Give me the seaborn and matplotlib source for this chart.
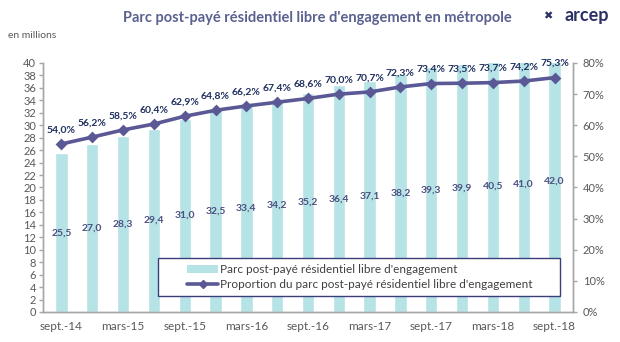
import matplotlib
matplotlib.use("Agg")
import matplotlib.pyplot as plt
import seaborn as sns
import pandas as pd
import numpy as np
from matplotlib.lines import Line2D
from matplotlib.patches import Patch, Rectangle
from matplotlib.ticker import PercentFormatter

periods = ["sept.-14", "déc.-14", "mars-15", "juin-15", "sept.-15", "déc.-15", "mars-16", "juin-16",
           "sept.-16", "déc.-16", "mars-17", "juin-17", "sept.-17", "déc.-17", "mars-18", "juin-18", "sept.-18"]
parc = [25.5, 27.0, 28.3, 29.4, 31.0, 32.5, 33.4, 34.2, 35.2, 36.4, 37.1, 38.2, 39.3, 39.9, 40.5, 41.0, 42.0]
proportion = [54.0, 56.2, 58.5, 60.4, 62.9, 64.8, 66.2, 67.4, 68.6, 70.0, 70.7, 72.3, 73.4, 73.5, 73.7, 74.2, 75.3]
bar_label = "Parc post-payé résidentiel libre d'engagement"
line_label = "Proportion du parc post-payé résidentiel libre d'engagement"
title = "Parc post-payé résidentiel libre d'engagement en métropole"

df = pd.DataFrame({"periode": periods, "parc": parc, "prop": [p / 100 for p in proportion]})

sns.set_style("white")
plt.rcParams["font.family"] = ["Lato", "DejaVu Sans"]

BAR = "#b6e3e6"
LINE = "#5b5896"
TICK = "#595959"
NAVY = "#1f2f5f"

fig = plt.figure(figsize=(6.2, 3.42), dpi=100)
ax = fig.add_axes([43 / 620, 30 / 342, 530 / 620, 249 / 342])

sns.barplot(data=df, x="periode", y="parc", color=BAR, width=0.4, ax=ax, saturation=1)
ax.set_ylim(0, 40)
ax.set_yticks(np.arange(0, 41, 2))
ax.set_xlabel("")
ax.set_ylabel("")

ax2 = ax.twinx()
sns.pointplot(data=df, x="periode", y="prop", color=LINE, markers="D", markersize=4,
              linewidth=2.6, ax=ax2)
ax2.set_ylim(0, 0.8)
ax2.set_yticks(np.arange(0, 0.81, 0.1))
ax2.yaxis.set_major_formatter(PercentFormatter(1.0, decimals=0))
ax2.set_ylabel("")
ax2.set_xlim(-0.6, len(periods) - 0.4)
ax.set_xlim(-0.6, len(periods) - 0.4)

shown = list(range(0, len(periods), 2))
ax.set_xticks(shown)
ax.set_xticklabels([periods[i] for i in shown])

for a in (ax, ax2):
    for s in a.spines.values():
        s.set_color("#a6a6a6")
        s.set_linewidth(1)
    a.spines["top"].set_visible(False)
    a.tick_params(colors=TICK, labelsize=8, length=3, width=1, color="#a6a6a6")
ax.tick_params(axis="x", labelsize=8.5, direction="out")
ax.tick_params(axis="y", direction="out", pad=2)
ax2.tick_params(axis="y", direction="out", pad=4)

for i, v in enumerate(parc):
    ax.text(i, v / 2, f"{v:.1f}".replace(".", ","), ha="center", va="center",
            fontsize=7.5, color="#4c5080", fontweight="bold")
for i, v in enumerate(proportion):
    ax2.annotate(f"{v:.1f}%".replace(".", ","), (i, v / 100), xytext=(0, 7),
                 textcoords="offset points", ha="center", va="bottom",
                 fontsize=7.5, color=NAVY, fontweight="bold")

# legend frame drawn as a box, legend content inside it
box = Rectangle((0.217, 0.064), 0.758, 0.153, transform=ax2.transAxes,
                facecolor="white", edgecolor="#3a3f7a", linewidth=1, zorder=4)
ax2.add_patch(box)
handles = [Patch(facecolor=BAR, edgecolor="none"),
           Line2D([0], [0], color=LINE, lw=2.6, marker="D", markersize=4)]
leg = ax2.legend(handles, [bar_label, line_label], loc="center left",
                 bbox_to_anchor=(0.272, 0.1405), frameon=False, borderpad=0,
                 borderaxespad=0, fontsize=8.5, handlelength=2.6, handletextpad=0.15,
                 labelspacing=0.35)
leg.set_zorder(6)
for t in leg.get_texts():
    t.set_color("#404040")

fig.text(317 / 620, 1 - 18 / 342, title, ha="center", va="center",
         fontsize=10.5, fontweight="bold", color="#5a6190")
fig.text(8 / 620, 1 - 36 / 342, "en millions", ha="left", va="center",
         fontsize=7.5, color=TICK)
fig.text(587 / 620, 1 - 16 / 342, "arcep", ha="center", va="center",
         fontsize=13, fontweight="bold", color="#2a2f66")
fig.text(548 / 620, 1 - 16 / 342, "✖", ha="center", va="center",
         fontsize=8, color="#2a2f66", family=["DejaVu Sans"])

fig.savefig("out.png", dpi=100)
